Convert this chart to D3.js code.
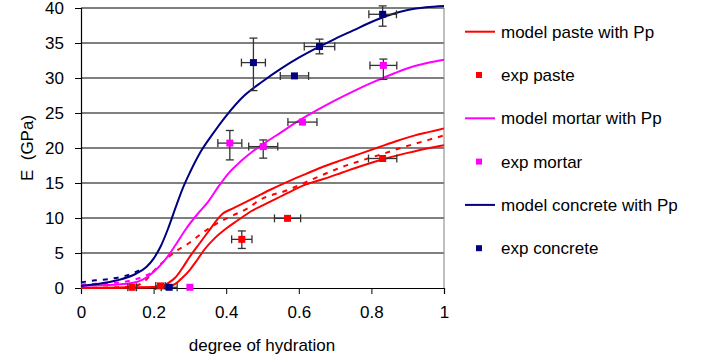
<!DOCTYPE html>
<html>
<head>
<meta charset="utf-8">
<script src="https://cdn.jsdelivr.net/npm/d3@7"></script>
<style>
  body { margin: 0; background: #fff; }
  text { font-family: "Liberation Sans", Arial, sans-serif; fill: #000; }
</style>
</head>
<body>
<div id="chartHolder"></div>
<script>
// model curves, [degree of hydration, E (GPa)]
const pasteUpper = [[0,0],[0.1,0.05],[0.2,0.15],[0.22,0.25],[0.24,0.7],[0.26,1.5],[0.28,2.9],[0.3,4.5],[0.32,5.9],[0.35,8.0],[0.39,10.6],[0.42,11.4],[0.47,12.7],[0.52,14.0],[0.57,15.2],[0.62,16.3],[0.67,17.4],[0.72,18.3],[0.77,19.2],[0.82,20.1],[0.87,21.0],[0.92,21.8],[0.96,22.3],[1.0,22.8]];
const pasteLower = [[0,0],[0.1,0.05],[0.2,0.1],[0.24,0.2],[0.26,0.6],[0.28,1.5],[0.3,2.6],[0.32,4.0],[0.34,5.5],[0.37,7.2],[0.4,8.5],[0.43,9.6],[0.47,11.0],[0.52,12.3],[0.57,13.6],[0.62,14.8],[0.67,15.6],[0.72,16.5],[0.77,17.4],[0.84,18.5],[0.9,19.3],[0.95,19.9],[1.0,20.4]];
const pasteDashed = [[0,0],[0.1,0.1],[0.15,0.3],[0.18,1.2],[0.2,2.4],[0.23,3.9],[0.26,5.2],[0.3,6.5],[0.33,7.7],[0.37,9.1],[0.42,10.4],[0.46,11.4],[0.49,12.5],[0.57,14.0],[0.645,15.7],[0.72,17.3],[0.76,18.0],[0.84,19.3],[0.88,20.0],[0.92,20.6],[0.96,21.2],[1.0,21.8]];
const mortarModel = [[0,0.3],[0.05,0.4],[0.1,0.5],[0.14,0.7],[0.17,1.2],[0.2,2.3],[0.23,3.9],[0.26,6.1],[0.29,8.5],[0.32,10.5],[0.35,12.3],[0.38,14.6],[0.41,16.6],[0.44,18.1],[0.47,19.4],[0.5,20.5],[0.55,22.2],[0.6,23.9],[0.65,25.4],[0.7,26.8],[0.75,28.1],[0.8,29.3],[0.85,30.4],[0.9,31.4],[0.95,32.1],[1.0,32.6]];
const mortarDashed = [[0,0.5],[0.04,0.6],[0.08,0.7],[0.12,0.9],[0.16,1.4],[0.2,2.3]];
const concreteModel = [[0,0.3],[0.05,0.6],[0.1,1.1],[0.15,2.0],[0.18,3.0],[0.2,4.2],[0.22,6.0],[0.24,8.5],[0.26,11.4],[0.28,14.2],[0.3,16.5],[0.33,19.5],[0.36,21.8],[0.4,24.6],[0.45,27.5],[0.5,29.5],[0.55,31.3],[0.6,32.9],[0.65,34.3],[0.7,35.6],[0.75,36.8],[0.8,38.0],[0.85,39.0],[0.9,39.7],[0.95,40.1],[1.0,40.3]];
const concreteDashed = [[0,0.8],[0.04,1.1],[0.08,1.3],[0.12,1.7],[0.16,2.5]];

// measurements: [x, E, xerr, yerr below, yerr above]
const expPaste = [[0.141,0.1,0.012,0,0],[0.219,0.3,0.013,0,0],[0.443,6.95,0.028,1.3,1.2],[0.569,9.95,0.036,0,0],[0.831,18.5,0.039,0,0]];
const expMortar = [[0.3,0.1,0,0,0],[0.41,20.7,0.033,2.4,1.8],[0.502,20.2,0.04,1.65,0.95],[0.61,23.7,0.04,0,0],[0.833,31.8,0.037,2.0,0.9]];
const expConcrete = [[0.243,0.1,0.022,0,0],[0.475,32.2,0.033,4.0,3.5],[0.588,30.3,0.039,0,0],[0.657,34.5,0.042,1.05,1.05],[0.831,39.1,0.038,1.7,1.2]];

const xTicks = [0, 0.2, 0.4, 0.6, 0.8, 1];
const yTicks = [0, 5, 10, 15, 20, 25, 30, 35, 40];

const legendItems = [
  { label: "model paste with Pp", color: "#ff0000", type: "line" },
  { label: "exp paste", color: "#ff0000", type: "square" },
  { label: "model mortar with Pp", color: "#ff00ff", type: "line" },
  { label: "exp mortar", color: "#ff00ff", type: "square" },
  { label: "model concrete with Pp", color: "#000080", type: "line" },
  { label: "exp concrete", color: "#000080", type: "square" }
];

const w = 707, h = 363;
const svg = d3.select("#chartHolder").append("svg")
  .attr("width", w).attr("height", h);

const x = d3.scaleLinear().domain([0, 1]).range([81, 444]);
const y = d3.scaleLinear().domain([0, 40]).range([288, 8]);

// gridlines
svg.append("g").selectAll("line")
  .data(yTicks.filter(d => d > 0))
  .enter().append("line")
    .attr("x1", x(0)).attr("x2", x(1))
    .attr("y1", d => y(d)).attr("y2", d => y(d))
    .attr("stroke", "#000").attr("stroke-width", 1);

// right border of plot area
svg.append("line")
  .attr("x1", x(1)).attr("x2", x(1)).attr("y1", y(40)).attr("y2", y(0))
  .attr("stroke", "#808080").attr("stroke-width", 1);

const xAxis = svg.append("g")
  .attr("transform", "translate(0," + y(0) + ")")
  .call(d3.axisBottom(x).tickValues(xTicks).tickSize(6).tickPadding(12)
    .tickFormat(d => d === 0 || d === 1 ? d : d3.format(".1f")(d)));
const yAxis = svg.append("g")
  .attr("transform", "translate(" + x(0) + ",0)")
  .call(d3.axisLeft(y).tickValues(yTicks).tickSize(6).tickPadding(11));

[xAxis, yAxis].forEach(a => {
  a.select(".domain").attr("stroke", "#000").attr("stroke-width", 1.2);
  a.selectAll(".tick line").attr("stroke", "#000");
  a.selectAll("text").style("font-size", "17px")
    .style("font-family", "'Liberation Sans', Arial, sans-serif");
});

svg.append("text")
  .attr("x", 262).attr("y", 351)
  .attr("text-anchor", "middle")
  .style("font-size", "17px")
  .text("degree of hydration");

svg.append("text")
  .attr("transform", "translate(33," + y(20) + ") rotate(-90)")
  .attr("text-anchor", "middle")
  .style("font-size", "17px")
  .attr("xml:space", "preserve")
  .text("E  (GPa)");

const line = d3.line()
  .x(d => x(d[0])).y(d => y(d[1]))
  .curve(d3.curveMonotoneX);

const curves = [
  { data: pasteLower, color: "#ff0000", dash: null },
  { data: pasteUpper, color: "#ff0000", dash: null },
  { data: pasteDashed, color: "#ff0000", dash: "5,6" },
  { data: mortarDashed, color: "#ff00ff", dash: "5,6" },
  { data: mortarModel, color: "#ff00ff", dash: null },
  { data: concreteDashed, color: "#000080", dash: "5,6" },
  { data: concreteModel, color: "#000080", dash: null }
];

svg.append("g").selectAll("path")
  .data(curves)
  .enter().append("path")
    .attr("d", c => line(c.data))
    .attr("fill", "none")
    .attr("stroke", c => c.color)
    .attr("stroke-width", 2)
    .attr("stroke-dasharray", c => c.dash);

// error bars + markers
const expSets = [
  { data: expPaste, color: "#ff0000" },
  { data: expMortar, color: "#ff00ff" },
  { data: expConcrete, color: "#000080" }
];
const cap = 4;
const errG = svg.append("g").attr("stroke", "#333").attr("stroke-width", 1.3);
expSets.forEach(s => {
  s.data.forEach(d => {
    if (d[2] > 0) {
      const x0 = x(d[0] - d[2]), x1 = x(d[0] + d[2]), yy = y(d[1]);
      errG.append("line").attr("x1", x0).attr("x2", x1).attr("y1", yy).attr("y2", yy);
      errG.append("line").attr("x1", x0).attr("x2", x0).attr("y1", yy - cap).attr("y2", yy + cap);
      errG.append("line").attr("x1", x1).attr("x2", x1).attr("y1", yy - cap).attr("y2", yy + cap);
    }
    if (d[3] > 0 || d[4] > 0) {
      const y0 = y(d[1] - d[3]), y1 = y(d[1] + d[4]), xx = x(d[0]);
      errG.append("line").attr("x1", xx).attr("x2", xx).attr("y1", y0).attr("y2", y1);
      errG.append("line").attr("x1", xx - cap).attr("x2", xx + cap).attr("y1", y0).attr("y2", y0);
      errG.append("line").attr("x1", xx - cap).attr("x2", xx + cap).attr("y1", y1).attr("y2", y1);
    }
  });
});
expSets.forEach(s => {
  svg.append("g").selectAll("rect")
    .data(s.data)
    .enter().append("rect")
      .attr("x", d => x(d[0]) - 3.5)
      .attr("y", d => y(d[1]) - 3.5)
      .attr("width", 7).attr("height", 7)
      .attr("fill", s.color);
});

// legend
const legend = svg.append("g").selectAll("g")
  .data(legendItems)
  .enter().append("g")
    .attr("transform", (d, i) => "translate(0," + (31.7 + i * 43.3) + ")");
legend.filter(d => d.type === "line").append("line")
  .attr("x1", 465).attr("x2", 495).attr("y1", 0).attr("y2", 0)
  .attr("stroke", d => d.color).attr("stroke-width", 2);
legend.filter(d => d.type === "square").append("rect")
  .attr("x", 476).attr("y", -3).attr("width", 6).attr("height", 6)
  .attr("fill", d => d.color);
legend.append("text")
  .attr("x", 501).attr("y", 6)
  .style("font-size", "17px")
  .text(d => d.label);
</script>
</body>
</html>
